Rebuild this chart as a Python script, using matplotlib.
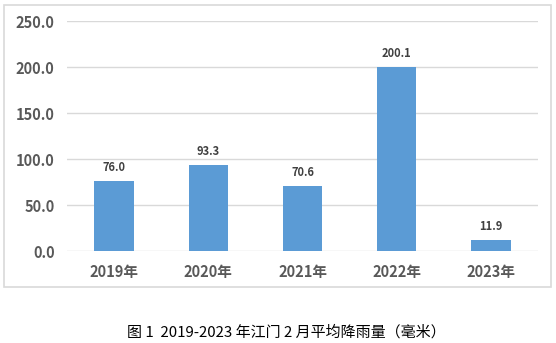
import matplotlib
matplotlib.use("Agg")
import matplotlib.pyplot as plt
from matplotlib.patches import Rectangle

plt.rcParams["font.family"] = ["Noto Sans CJK SC", "DejaVu Sans"]

years = ["2019年", "2020年", "2021年", "2022年", "2023年"]
rain = [76.0, 93.3, 70.6, 200.1, 11.9]
yticks = [0, 50, 100, 150, 200, 250]
caption = "图 1  2019-2023 年江门 2 月平均降雨量（毫米）"

fig = plt.figure(figsize=(5.56, 3.43), dpi=100)
W, H = 556, 343
# chart frame
fig.patches.append(Rectangle((4 / W, 1 - 287 / H), 547 / W, 282 / H,
                             transform=fig.transFigure, fill=False,
                             edgecolor="#d9d9d9", lw=1.2))
ax = fig.add_axes([67 / W, 1 - 251 / H, 471 / W, 230 / H])

x = range(len(years))
ax.bar(x, rain, width=0.42, color="#5b9bd5", zorder=3)
for i, v in enumerate(rain):
    ax.text(i, v + 8, f"{v:.1f}", ha="center", va="bottom",
            fontsize=8, fontweight="bold", color="#404040")

ax.set_xlim(-0.5, len(years) - 0.5)
ax.set_ylim(0, 250)
ax.set_yticks(yticks)
ax.set_yticklabels([f"{t:.1f}" for t in yticks])
ax.set_xticks(list(x))
ax.set_xticklabels(years)
ax.grid(axis="y", color="#d9d9d9", lw=1, zorder=0)
for s in ax.spines.values():
    s.set_visible(False)
ax.tick_params(length=0, labelsize=10.5, labelcolor="#595959", pad=9)
for lab in ax.get_xticklabels() + ax.get_yticklabels():
    lab.set_fontweight("bold")

fig.text(286 / W, 1 - 332 / H, caption, ha="center", va="center",
         fontsize=10.8, color="#000000")

fig.savefig("out.png", dpi=100)
